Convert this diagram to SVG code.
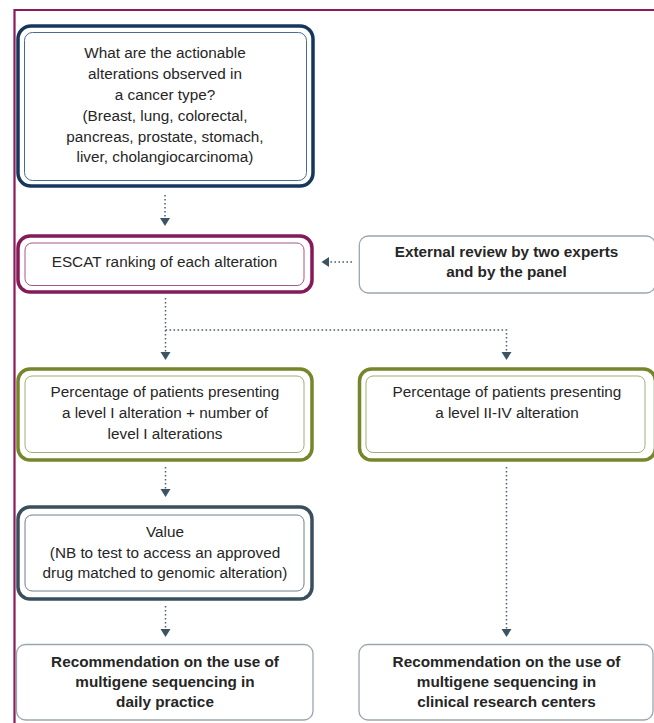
<svg xmlns="http://www.w3.org/2000/svg" width="654" height="723" viewBox="0 0 654 723">
<defs>
<style>
text{font-family:"Liberation Sans",Arial,sans-serif;font-size:15.3px;fill:#262626;text-anchor:middle}
.b{font-weight:bold}
.conn{fill:none;stroke:#4a6070;stroke-width:1.5;stroke-dasharray:1.6 2.4}
.navy{fill:#fff;stroke:#17365d;stroke-width:3.5}
.navyi{fill:none;stroke:#4a6a95;stroke-width:1}
.mar{fill:#fff;stroke:#861a59;stroke-width:3.5}
.mari{fill:none;stroke:#a8578a;stroke-width:1}
.grn{fill:#fff;stroke:#76862a;stroke-width:3.5}
.grni{fill:none;stroke:#a3ae74;stroke-width:1}
.sl{fill:#fff;stroke:#3a4f5e;stroke-width:3.5}
.sli{fill:none;stroke:#6e808c;stroke-width:1}
.gr{fill:#fff;stroke:#9aa6ae;stroke-width:1.3}
.ah{fill:#3c5363}
</style>
</defs>
<rect width="654" height="723" fill="#fff"/>
<g id="frame">
<path d="M14.5,723 V10 H654" fill="none" stroke="#8a1b5c" stroke-width="2.2"/>
</g>
<g id="connectors">
<path class="conn" d="M165,195 V218"/>
<path class="ah" d="M160,218 L170,218 L165,226 Z"/>
<path class="conn" d="M352,262 H329"/>
<path class="ah" d="M329,257 L329,267 L321.5,262 Z"/>
<path class="conn" d="M165.5,298 V352 M165.5,330 H506.5 V352"/>
<path class="ah" d="M160.5,352 L170.5,352 L165.5,360 Z"/>
<path class="ah" d="M501.5,352 L511.5,352 L506.5,360 Z"/>
<path class="conn" d="M165.5,467 V489"/>
<path class="ah" d="M160.5,489 L170.5,489 L165.5,497 Z"/>
<path class="conn" d="M506.5,467 V629"/>
<path class="ah" d="M501.5,629 L511.5,629 L506.5,637 Z"/>
<path class="conn" d="M165.5,606 V629"/>
<path class="ah" d="M160.5,629 L170.5,629 L165.5,637 Z"/>
</g>
<g id="n1">
<rect class="navy" x="18" y="26" width="295" height="160" rx="13"/>
<rect class="navyi" x="24.5" y="32.5" width="282" height="148" rx="8"/>
<text x="165" y="58">What are the actionable</text>
<text x="165" y="79">alterations observed in</text>
<text x="165" y="100">a cancer type?</text>
<text x="165" y="120.5">(Breast, lung, colorectal,</text>
<text x="165" y="141.5">pancreas, prostate, stomach,</text>
<text x="165" y="162">liver, cholangiocarcinoma)</text>
</g>
<g id="n2">
<rect class="mar" x="18" y="236" width="294" height="56" rx="12"/>
<rect class="mari" x="25" y="243" width="279" height="42.5" rx="7"/>
<text x="164.5" y="267">ESCAT ranking of each alteration</text>
</g>
<g id="n3">
<rect class="gr" x="359.3" y="236" width="296" height="57" rx="9"/>
<text class="b" x="506.5" y="256.5">External review by two experts</text>
<text class="b" x="506.5" y="277">and by the panel</text>
</g>
<g id="n4">
<rect class="grn" x="18" y="369" width="294" height="91" rx="12"/>
<rect class="grni" x="25" y="376" width="279" height="76.5" rx="7"/>
<text x="165" y="397">Percentage of patients presenting</text>
<text x="165" y="418">a level I alteration + number of</text>
<text x="165" y="439">level I alterations</text>
</g>
<g id="n5">
<rect class="grn" x="359.5" y="369" width="296" height="91" rx="12"/>
<rect class="grni" x="366" y="376" width="279" height="76.5" rx="7"/>
<text x="507" y="397">Percentage of patients presenting</text>
<text x="507" y="418">a level II-IV alteration</text>
</g>
<g id="n6">
<rect class="sl" x="18" y="507" width="294" height="92" rx="12"/>
<rect class="sli" x="25" y="515" width="279" height="76" rx="7"/>
<text x="165" y="537">Value</text>
<text x="165" y="557.5">(NB to test to access an approved</text>
<text x="165" y="578">drug matched to genomic alteration)</text>
</g>
<g id="n7">
<rect class="gr" x="16.5" y="644.5" width="296.5" height="75.5" rx="9"/>
<text class="b" x="165" y="666.5">Recommendation on the use of</text>
<text class="b" x="165" y="686.5">multigene sequencing in</text>
<text class="b" x="165" y="706.5">daily practice</text>
</g>
<g id="n8">
<rect class="gr" x="359" y="644.5" width="294" height="75.5" rx="9"/>
<text class="b" x="506.5" y="666.5">Recommendation on the use of</text>
<text class="b" x="506.5" y="686.5">multigene sequencing in</text>
<text class="b" x="506.5" y="706.5">clinical research centers</text>
</g>
</svg>
